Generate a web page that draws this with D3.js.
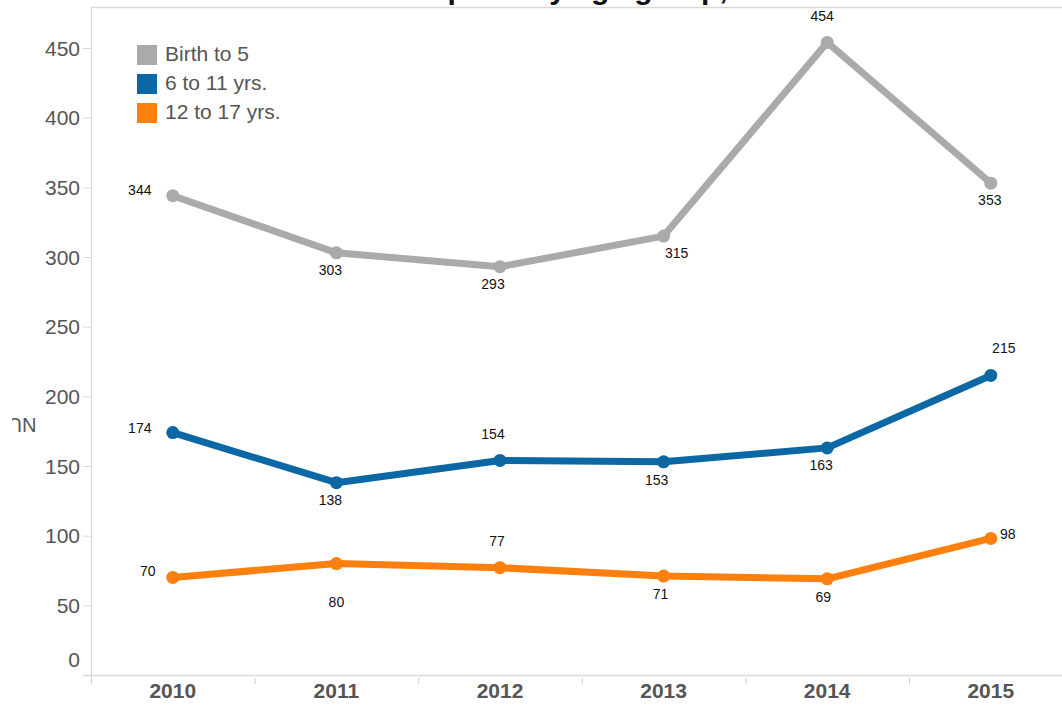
<!DOCTYPE html>
<html>
<head>
<meta charset="utf-8">
<script src="https://cdn.jsdelivr.net/npm/d3@7"></script>
<style>
  html, body { margin: 0; padding: 0; background: #fff; overflow: hidden; }
  svg { display: block; font-family: "Liberation Sans", Arial, sans-serif; }
</style>
</head>
<body>
<svg id="chart" width="1062" height="706"></svg>
<script>
// ---- data ----
const years = ["2010", "2011", "2012", "2013", "2014", "2015"];
const seriesNames = ["Birth to 5", "6 to 11 yrs.", "12 to 17 yrs."];
const birthTo5 = [344, 303, 293, 315, 454, 353];
const age6to11 = [174, 138, 154, 153, 163, 215];
const age12to17 = [70, 80, 77, 71, 69, 98];
const yTicks = [0, 50, 100, 150, 200, 250, 300, 350, 400, 450];
const titleText = "Child Abuse Reports by age group, 2010-2015";
const yAxisTitle = "NUMBER OF REPORTS";

// ---- presentation ----
const colors = ["#aaaaaa", "#0b68a5", "#fd7f0e"];
// label placement per series/point: [dx, dy] of label centre relative to the point
const labelPlacement = [
  [[-33, -6], [-6, 17], [-7, 17], [13, 17], [-5, -26], [-1, 17]],
  [[-33, -5], [-6, 17], [-7, -26], [-7, 18], [-6, 17], [13, -27]],
  [[-25, -6], [0, 38], [-3, -27], [-3, 18], [-4, 18], [17, -4]]
];

const svg = d3.select("#chart");
const W = 1062, H = 706;
const plotLeft = 91, plotTop = 7, bandW = 163.6;
const y0 = 675, yTop = 48;

const x = d3.scaleBand().domain(years).range([plotLeft, plotLeft + bandW * years.length]).padding(0);
const y = d3.scaleLinear().domain([0, 450]).range([y0, yTop]);
const cx = d => x(d) + x.bandwidth() / 2;

// frame
svg.append("line").attr("x1", plotLeft).attr("x2", W).attr("y1", plotTop + 0.5).attr("y2", plotTop + 0.5)
  .attr("stroke", "#d9d9d9").attr("stroke-width", 1.5);
svg.append("line").attr("x1", plotLeft + 0.5).attr("x2", plotLeft + 0.5).attr("y1", plotTop).attr("y2", y0 + 8)
  .attr("stroke", "#d9d9d9").attr("stroke-width", 1.2);
svg.append("line").attr("x1", 83).attr("x2", W).attr("y1", y0 + 0.5).attr("y2", y0 + 0.5)
  .attr("stroke", "#d9d9d9").attr("stroke-width", 1.5);

// title (clipped at top)
svg.append("text").attr("x", 227).attr("y", -1)
  .attr("font-size", 30).attr("font-weight", "bold").attr("fill", "#111")
  .text(titleText);

// y axis
const yAxis = d3.axisLeft(y).tickValues(yTicks).tickSize(8).tickPadding(3).tickFormat(d3.format("d"));
const yg = svg.append("g").attr("transform", `translate(${plotLeft},0)`).call(yAxis);
yg.select(".domain").remove();
yg.selectAll(".tick line").attr("stroke", "#d9d9d9");
yg.selectAll(".tick text").attr("font-size", 21).attr("fill", "#555")
  .attr("font-family", "Liberation Sans, Arial, sans-serif")
  .attr("dy", d => d === 0 ? "-0.42em" : "0.34em");
yg.selectAll(".tick").filter(d => d === 0).select("line").remove();

// y axis title (upside down, clipped)
svg.append("clipPath").attr("id", "ytclip").append("rect")
  .attr("x", 12).attr("y", 380).attr("width", 40).attr("height", 80);
svg.append("g").attr("clip-path", "url(#ytclip)")
  .append("text").attr("transform", "translate(36.5,418) rotate(180)")
  .attr("font-size", 20).attr("fill", "#555").text(yAxisTitle);

// x axis
const xg = svg.append("g").attr("transform", `translate(0,${y0})`);
xg.selectAll("line.xt").data(years).join("line").attr("class", "xt")
  .attr("x1", d => x(d) + 0.5).attr("x2", d => x(d) + 0.5)
  .attr("y1", 3).attr("y2", 9).attr("stroke", "#d0d0d0");
xg.selectAll("text").data(years).join("text")
  .attr("x", d => cx(d)).attr("y", 23).attr("text-anchor", "middle")
  .attr("font-size", 21).attr("font-weight", "bold").attr("fill", "#555").text(d => d);

// series
const allSeries = [birthTo5, age6to11, age12to17];
const line = d3.line().x((d, i) => cx(years[i])).y(d => y(d));
allSeries.forEach((vals, si) => {
  const g = svg.append("g");
  g.append("path").datum(vals).attr("d", line).attr("fill", "none")
    .attr("stroke", colors[si]).attr("stroke-width", 7)
    .attr("stroke-linejoin", "round").attr("stroke-linecap", "round");
  g.selectAll("circle").data(vals).join("circle")
    .attr("cx", (d, i) => cx(years[i])).attr("cy", d => y(d)).attr("r", 6.5)
    .attr("fill", colors[si]);
  g.selectAll("text").data(vals).join("text")
    .attr("x", (d, i) => cx(years[i]) + labelPlacement[si][i][0])
    .attr("y", (d, i) => y(d) + labelPlacement[si][i][1] + 5)
    .attr("text-anchor", "middle").attr("font-size", 14).attr("fill", "#111")
    .text(d => d);
});

// legend
const lg = svg.append("g").attr("transform", "translate(137,45)");
seriesNames.forEach((n, i) => {
  lg.append("rect").attr("x", 0).attr("y", i * 29).attr("width", 20).attr("height", 20).attr("fill", colors[i]);
  lg.append("text").attr("x", 28).attr("y", i * 29 + 16).attr("font-size", 21).attr("fill", "#555").text(n);
});
</script>
</body>
</html>
